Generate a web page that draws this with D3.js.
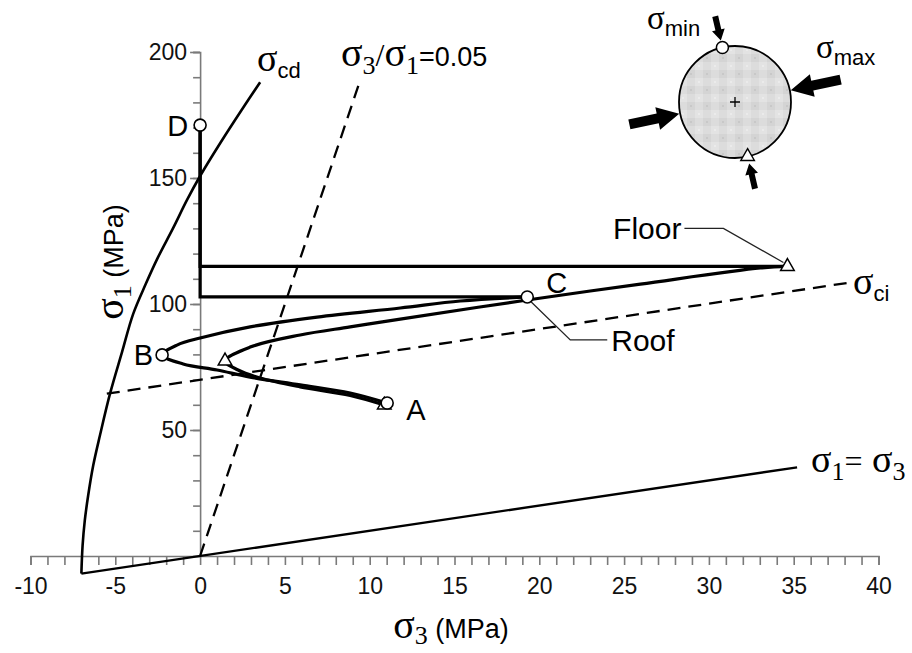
<!DOCTYPE html>
<html>
<head>
<meta charset="utf-8">
<script src="https://cdn.jsdelivr.net/npm/d3@7"></script>
<style>
  body { margin: 0; background: #fff; }
  svg { display: block; }
</style>
</head>
<body>
<svg id="chart" width="912" height="653"></svg>
<script>
// ---- axis ticks ----
const xMajorTicks = [-10, -5, 0, 5, 10, 15, 20, 25, 30, 35, 40];
const xMinorTicks = d3.range(-10, 41, 1);
const yMajorTicks = [50, 100, 150, 200];
const yMinorTicks = d3.range(10, 201, 10);

// ---- stress paths, [σ3, σ1] in MPa ----
// roof (circles): A → B → C
const roofPath = [
  [11.03, 60.7], [8.85, 64.7], [5.90, 67.9], [2.95, 71.0], [1.00, 73.8],
  [-1.00, 76.2], [-2.24, 79.8], [-1.36, 83.7], [0.00, 86.5], [2.95, 90.9],
  [6.90, 94.8], [11.80, 98.4], [15.34, 101.2], [19.29, 102.8]
];
// roof unloading: C → σ3 = 0 → D
const roofUnload = [[19.29, 102.8], [0, 102.8], [0, 171]];
const roofPoints = [
  { name: "A", p: [11.03, 60.7] },
  { name: "B", p: [-2.24, 79.8] },
  { name: "C", p: [19.29, 102.8] },
  { name: "D", p: [0, 171] }
];

// floor (triangles)
const floorPath = [
  [10.86, 59.9], [8.85, 63.7], [5.90, 67.1], [3.54, 70.6], [2.24, 73.8],
  [1.47, 77.4], [2.95, 82.9], [5.90, 87.7], [8.85, 90.9], [11.80, 94.0],
  [19.29, 101.6], [25.96, 107.9], [33.04, 114.3], [34.63, 114.9]
];
const floorUnload = [[34.63, 114.9], [0, 114.9], [0, 171]];
const floorPoints = [[10.86, 59.9], [1.47, 77.4], [34.63, 114.9]];

// ---- strength envelopes ----
const sigmaCd = [
  [-7.0, -7.0], [-6.93, 4.0], [-6.8, 14.0], [-6.6, 24.0], [-6.3, 36.0],
  [-5.9, 48.0], [-5.3, 64.7], [-4.6, 81.0], [-3.95, 96.0], [-3.2, 108.0],
  [-2.5, 118.3], [-1.6, 130.0], [-0.77, 141.3], [0.0, 150.8], [1.2, 164.0],
  [2.4, 176.5], [3.54, 188.0]
];
const sigmaCi = [[-5.5, 64.4], [38.3, 108.5]];
const ratioSigma1 = [0, 188];           // σ3/σ1 = 0.05
const ratioValue = 0.05;
const equalLine = [[-7.0, -7.0], [35.2, 35.2]];   // σ1 = σ3

// ---- scales ----
const x = d3.scaleLinear().domain([-10, 40]).range([30.5, 878.5]);
const y = d3.scaleLinear().domain([0, 200]).range([556, 52]);

const svg = d3.select("#chart");
const SANS = "'Liberation Sans', Arial, Helvetica, sans-serif";
const SERIF = "'Liberation Serif', 'Times New Roman', serif";

svg.append("rect").attr("width", 912).attr("height", 653).attr("fill", "#fff");

// ---- axes ----
const axisColor = "#7a7a7a";
const xAxisG = svg.append("g").attr("transform", `translate(0,${y(0)})`);
xAxisG.call(d3.axisBottom(x).tickValues(xMinorTicks).tickSize(9).tickFormat(""));
const xLab = svg.append("g").attr("transform", `translate(0,${y(0)})`)
  .call(d3.axisBottom(x).tickValues(xMajorTicks).tickSize(9).tickPadding(13).tickFormat(d => String(d)));
xLab.select(".domain").remove();
xLab.selectAll("line").remove();

const yAxisG = svg.append("g").attr("transform", `translate(${x(0)},0)`);
yAxisG.call(d3.axisLeft(y).tickValues(yMinorTicks).tickSize(7).tickFormat(""));
const yLab = svg.append("g").attr("transform", `translate(${x(0)},0)`)
  .call(d3.axisLeft(y).tickValues(yMajorTicks).tickSize(10).tickPadding(3).tickFormat(d => String(d)));
yLab.select(".domain").remove();

[xAxisG, yAxisG, yLab].forEach(g => {
  g.select(".domain").attr("stroke", axisColor).attr("stroke-width", 1.6);
  g.selectAll("line").attr("stroke", axisColor).attr("stroke-width", 1.6);
});
[xLab, yLab].forEach(g => {
  g.selectAll("text").attr("fill", "#111").style("font-family", SANS).style("font-size", "23px");
});

// ---- lines ----
const line = d3.line().x(d => x(d[0])).y(d => y(d[1]));
const smooth = d3.line().x(d => x(d[0])).y(d => y(d[1])).curve(d3.curveCatmullRom.alpha(0.5));

svg.append("path").datum(equalLine).attr("d", line)
  .attr("fill", "none").attr("stroke", "#000").attr("stroke-width", 2.3);
svg.append("path").datum(sigmaCd).attr("d", smooth)
  .attr("fill", "none").attr("stroke", "#000").attr("stroke-width", 2.6);
svg.append("path").datum(ratioSigma1.map(s => [ratioValue * s, s])).attr("d", line)
  .attr("fill", "none").attr("stroke", "#000").attr("stroke-width", 2.3)
  .attr("stroke-dasharray", "13,8");
svg.append("path").datum(sigmaCi).attr("d", line)
  .attr("fill", "none").attr("stroke", "#000").attr("stroke-width", 2.3)
  .attr("stroke-dasharray", "13,8");

[floorPath, roofPath].forEach(p => {
  svg.append("path").datum(p).attr("d", smooth)
    .attr("fill", "none").attr("stroke", "#000").attr("stroke-width", 3.2)
    .attr("stroke-linejoin", "round");
});
[floorUnload, roofUnload].forEach(p => {
  svg.append("path").datum(p).attr("d", line)
    .attr("fill", "none").attr("stroke", "#000").attr("stroke-width", 3.2);
});

// ---- leader lines ----
const cPx = [x(roofPoints[2].p[0]), y(roofPoints[2].p[1])];
const fPx = [x(floorPoints[2][0]), y(floorPoints[2][1])];
svg.append("path")
  .attr("d", d3.line()([[cPx[0] + 4, cPx[1] + 5], [cPx[0] + 43, cPx[1] + 43], [cPx[0] + 80, cPx[1] + 43]]))
  .attr("fill", "none").attr("stroke", "#222").attr("stroke-width", 1.3);
svg.append("path")
  .attr("d", d3.line()([[fPx[0] - 4, fPx[1] - 4], [fPx[0] - 64, fPx[1] - 38], [fPx[0] - 103, fPx[1] - 38]]))
  .attr("fill", "none").attr("stroke", "#222").attr("stroke-width", 1.3);

// ---- markers ----
const tri = d3.symbol().type(d3.symbolTriangle).size(80);
svg.selectAll(".tri").data(floorPoints).join("path").attr("class", "tri")
  .attr("d", tri).attr("transform", d => `translate(${x(d[0])},${y(d[1])})`)
  .attr("fill", "#fff").attr("stroke", "#000").attr("stroke-width", 1.5);
svg.selectAll(".dot").data(roofPoints).join("circle").attr("class", "dot")
  .attr("cx", d => x(d.p[0])).attr("cy", d => y(d.p[1])).attr("r", 6)
  .attr("fill", "#fff").attr("stroke", "#000").attr("stroke-width", 1.6);

// point letters
const letterPos = {
  A: { dx: 19, dy: 17, anchor: "start" },
  B: { dx: -9, dy: 10, anchor: "end" },
  C: { dx: 19, dy: -4, anchor: "start" },
  D: { dx: -12, dy: 11, anchor: "end" }
};
svg.selectAll(".letter").data(roofPoints).join("text").attr("class", "letter")
  .attr("x", d => x(d.p[0]) + letterPos[d.name].dx)
  .attr("y", d => y(d.p[1]) + letterPos[d.name].dy)
  .attr("text-anchor", d => letterPos[d.name].anchor)
  .style("font-family", SANS).style("font-size", "29px").text(d => d.name);

svg.append("text").attr("x", cPx[0] + 84).attr("y", cPx[1] + 54)
  .style("font-family", SANS).style("font-size", "30px").text("Roof");
svg.append("text").attr("x", fPx[0] - 106).attr("y", fPx[1] - 27).attr("text-anchor", "end")
  .style("font-family", SANS).style("font-size", "30px").text("Floor");

// ---- σ labels with subscripts ----
// parts: [text, kind]; kind: "sig" | "sub" | "subSerif" | "txt" | "serif"
function sigmaLabel(parent, px, py, parts, anchor, transform, sigSize, subDrop) {
  const t = parent.append("text").attr("x", px).attr("y", py)
    .attr("text-anchor", anchor || "start").attr("fill", "#000");
  if (transform) t.attr("transform", transform);
  const sz = sigSize || 40;
  const drop = subDrop || 8;
  let shift = 0;
  parts.forEach(([txt, kind]) => {
    const s = t.append("tspan").text(txt);
    let target = 0;
    if (kind === "sig") s.style("font-family", SERIF).style("font-size", sz + "px");
    else if (kind === "sub") { s.style("font-family", SANS).style("font-size", "22px"); target = 7; }
    else if (kind === "subSerif") { s.style("font-family", SERIF).style("font-size", "26px"); target = drop; }
    else if (kind === "serif") s.style("font-family", SERIF).style("font-size", "32px");
    else s.style("font-family", SANS).style("font-size", "27px");
    if (target !== shift) { s.attr("dy", target - shift); shift = target; }
  });
  return t;
}

sigmaLabel(svg, 257, 71, [["σ", "sig"], ["cd", "sub"]], "start", null, 38);
sigmaLabel(svg, 341, 66, [["σ", "sig"], ["3", "subSerif"], ["/", "serif"], ["σ", "sig"], ["1", "subSerif"], ["=0.05", "txt"]]);
sigmaLabel(svg, 853, 294, [["σ", "sig"], ["ci", "sub"]], "start", null, 38);
sigmaLabel(svg, 811, 472, [["σ", "sig"], ["1", "subSerif"], ["=", "serif"], [" σ", "sig"], ["3", "subSerif"]], "start", null, 38);
sigmaLabel(svg, 451, 638, [["σ", "sig"], ["3", "subSerif"], [" (MPa)", "txt"]], "middle", null, 40, 6);
sigmaLabel(svg, 0, 0, [["σ", "sig"], ["1", "subSerif"], [" (MPa)", "txt"]], "middle", "translate(123,262) rotate(-90)");

// ---- inset: borehole section with principal stress arrows ----
const inset = { cx: 735, cy: 102, r: 56 };
const maxAngle = -12;          // direction of σmax (deg)
const minAngle = -103;         // direction of σmin (deg)

const defs = svg.append("defs");
const pat = defs.append("pattern").attr("id", "rockfill").attr("patternUnits", "userSpaceOnUse")
  .attr("width", 16).attr("height", 16);
pat.append("rect").attr("width", 16).attr("height", 16).attr("fill", "#dcdcdc");
pat.append("rect").attr("x", 0).attr("y", 0).attr("width", 8).attr("height", 8).attr("fill", "#d4d4d4");
pat.append("rect").attr("x", 8).attr("y", 8).attr("width", 8).attr("height", 8).attr("fill", "#e3e3e3");
pat.append("rect").attr("x", 3).attr("y", 3).attr("width", 2).attr("height", 2).attr("fill", "#c8c8c8");
pat.append("rect").attr("x", 11).attr("y", 11).attr("width", 2).attr("height", 2).attr("fill", "#ebebeb");

const ig = svg.append("g").attr("transform", `translate(${inset.cx},${inset.cy})`);
ig.append("circle").attr("r", inset.r).attr("fill", "url(#rockfill)")
  .attr("stroke", "#000").attr("stroke-width", 1.8);
ig.append("path").attr("d", "M-5,0H5M0,-5V5").attr("stroke", "#000").attr("stroke-width", 1.3);

function arrow(angleDeg, tipR, len, shaftW, headW, headL) {
  const a = angleDeg * Math.PI / 180;
  // local frame: tip at origin pointing -x, tail towards +x
  const pts = [
    [0, 0], [headL, -headW / 2], [headL, -shaftW / 2], [len, -shaftW / 2],
    [len, shaftW / 2], [headL, shaftW / 2], [headL, headW / 2]
  ];
  const tx = tipR * Math.cos(a), ty = tipR * Math.sin(a);
  ig.append("path").attr("d", d3.line()(pts) + "Z")
    .attr("transform", `translate(${tx},${ty}) rotate(${angleDeg})`)
    .attr("fill", "#000");
}
arrow(maxAngle, inset.r + 1, 51, 10, 23, 22);
arrow(maxAngle + 180, inset.r + 1, 51, 10, 23, 22);
arrow(minAngle, inset.r + 7, 25, 6, 13, 11);
arrow(minAngle + 180, inset.r + 7, 26, 6, 13, 11);

const rad = d => d * Math.PI / 180;
ig.append("path").attr("d", tri)
  .attr("transform", `translate(${inset.r * Math.cos(rad(minAngle + 180))},${inset.r * Math.sin(rad(minAngle + 180))})`)
  .attr("fill", "#fff").attr("stroke", "#000").attr("stroke-width", 1.4);
ig.append("circle").attr("r", 6)
  .attr("cx", inset.r * Math.cos(rad(minAngle))).attr("cy", inset.r * Math.sin(rad(minAngle)))
  .attr("fill", "#fff").attr("stroke", "#000").attr("stroke-width", 1.5);

sigmaLabel(svg, 647, 29, [["σ", "sig"], ["min", "sub"]], "start", null, 33);
sigmaLabel(svg, 816, 58, [["σ", "sig"], ["max", "sub"]], "start", null, 33);
</script>
</body>
</html>
